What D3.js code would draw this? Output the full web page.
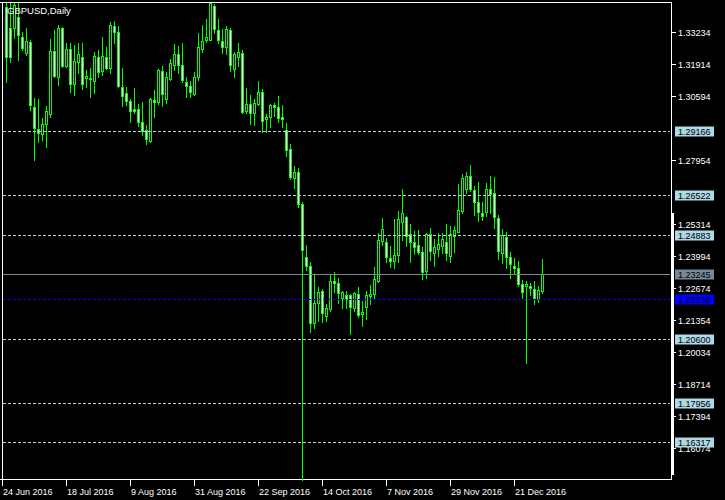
<!DOCTYPE html>
<html><head><meta charset="utf-8">
<script src="https://cdn.jsdelivr.net/npm/d3@7"></script>
<style>html,body{margin:0;padding:0;background:#000;overflow:hidden}svg{display:block}</style>
</head><body><svg id="c" width="725" height="500"></svg>
<script>
const symbolTitle = "GBPUSD,Daily";
const open = [1.4877,1.3427,1.3340,1.3340,1.3385,1.3303,1.3239,1.3282,1.3016,1.2923,1.2904,1.2945,1.2985,1.3246,1.3140,1.3340,1.3186,1.3253,1.3109,1.3200,
1.3220,1.3136,1.3135,1.3123,1.3220,1.3165,1.3220,1.3175,1.3349,1.3323,1.3096,1.3072,1.3040,1.3007,1.3006,1.2952,1.2920,1.2875,1.3044,1.3037,
1.3165,1.3047,1.3131,1.3188,1.3234,1.3188,1.3117,1.3102,1.3069,1.3138,1.3254,1.3292,1.3292,1.3432,1.3333,1.3289,1.3261,1.3333,1.3171,1.3223,
1.3237,1.3000,1.3026,1.2989,1.3026,1.3076,1.2964,1.2973,1.3023,1.3016,1.2973,1.2920,1.2841,1.2724,1.2746,1.2614,1.2395,1.2361,1.2123,1.2205,
1.2256,1.2154,1.2181,1.2297,1.2288,1.2229,1.2240,1.2240,1.2185,1.2244,1.2160,1.2189,1.2237,1.2243,1.2299,1.2464,1.2457,1.2392,1.2381,1.2405,
1.2542,1.2560,1.2490,1.2457,1.2446,1.2416,1.2340,1.2490,1.2414,1.2428,1.2443,1.2457,1.2402,1.2484,1.2501,1.2587,1.2677,1.2731,1.2673,1.2622,
1.2577,1.2581,1.2676,1.2659,1.2556,1.2412,1.2478,1.2398,1.2361,1.2350,1.2284,1.2278,1.2277,1.2263,1.2223,1.2257];
const high = [1.5018,1.3470,1.3445,1.3470,1.3470,1.3326,1.3340,1.3292,1.3051,1.3048,1.2969,1.3019,1.3296,1.3333,1.3353,1.3346,1.3278,1.3278,1.3271,1.3278,
1.3278,1.3168,1.3175,1.3243,1.3250,1.3303,1.3264,1.3367,1.3371,1.3349,1.3175,1.3096,1.3047,1.3092,1.3028,1.3037,1.2941,1.3054,1.3085,1.3172,
1.3184,1.3161,1.3212,1.3275,1.3267,1.3278,1.3138,1.3122,1.3161,1.3322,1.3353,1.3378,1.3447,1.3440,1.3378,1.3337,1.3349,1.3340,1.3243,1.3280,
1.3250,1.3095,1.3065,1.3048,1.3122,1.3089,1.2986,1.3028,1.3033,1.3061,1.3023,1.2948,1.2863,1.2772,1.2762,1.2625,1.2446,1.2377,1.2326,1.2274,
1.2264,1.2203,1.2325,1.2336,1.2309,1.2257,1.2257,1.2244,1.2253,1.2274,1.2215,1.2256,1.2281,1.2354,1.2494,1.2556,1.2474,1.2442,1.2552,1.2587,
1.2677,1.2567,1.2533,1.2504,1.2508,1.2437,1.2494,1.2515,1.2471,1.2494,1.2497,1.2533,1.2526,1.2524,1.2698,1.2739,1.2748,1.2776,1.2689,1.2705,
1.2622,1.2703,1.2731,1.2725,1.2571,1.2511,1.2501,1.2418,1.2391,1.2380,1.2302,1.2298,1.2288,1.2298,1.2277,1.2388];
const low = [1.3229,1.3120,1.3202,1.3299,1.3209,1.3250,1.3230,1.3003,1.2797,1.2872,1.2879,1.2849,1.2975,1.3138,1.3106,1.3181,1.3181,1.3078,1.3065,1.3154,
1.3088,1.3099,1.3055,1.3072,1.3140,1.3147,1.3172,1.3157,1.3280,1.3098,1.3021,1.3023,1.2955,1.2989,1.2937,1.2900,1.2863,1.2871,1.2975,1.3028,
1.3019,1.3033,1.3127,1.3168,1.3157,1.3117,1.3058,1.3055,1.3065,1.3127,1.3243,1.3285,1.3290,1.3319,1.3280,1.3239,1.3234,1.3165,1.3138,1.3184,
1.2992,1.2989,1.2945,1.2941,1.3023,1.2913,1.2913,1.2934,1.2979,1.2955,1.2934,1.2814,1.2718,1.2682,1.2601,1.1450,1.2343,1.2088,1.2102,1.2134,
1.2130,1.2134,1.2175,1.2253,1.2208,1.2185,1.2185,1.2079,1.2175,1.2150,1.2113,1.2141,1.2203,1.2226,1.2295,1.2446,1.2377,1.2356,1.2352,1.2377,
1.2467,1.2443,1.2377,1.2410,1.2408,1.2305,1.2309,1.2384,1.2361,1.2401,1.2412,1.2384,1.2377,1.2418,1.2499,1.2577,1.2659,1.2670,1.2570,1.2546,
1.2549,1.2567,1.2577,1.2515,1.2388,1.2370,1.2350,1.2311,1.2326,1.2277,1.2229,1.1960,1.2240,1.2201,1.2210,1.2247];
const close = [1.3679,1.3223,1.3223,1.3436,1.3312,1.3260,1.3287,1.3023,1.2930,1.2907,1.2945,1.2999,1.3246,1.3143,1.3340,1.3186,1.3253,1.3109,1.3205,1.3234,
1.3109,1.3143,1.3130,1.3226,1.3161,1.3226,1.3175,1.3353,1.3323,1.3103,1.3062,1.3041,1.3000,1.3000,1.2955,1.2917,1.2882,1.3048,1.3037,1.3168,
1.3069,1.3138,1.3195,1.3234,1.3188,1.3127,1.3103,1.3078,1.3138,1.3264,1.3289,1.3303,1.3443,1.3337,1.3292,1.3264,1.3337,1.3188,1.3234,1.3241,
1.2996,1.3026,1.2989,1.3030,1.3076,1.2959,1.2975,1.3023,1.3014,1.2969,1.2964,1.2838,1.2728,1.2746,1.2614,1.2425,1.2361,1.2125,1.2205,1.2251,
1.2167,1.2185,1.2297,1.2288,1.2249,1.2251,1.2222,1.2189,1.2247,1.2157,1.2168,1.2240,1.2244,1.2305,1.2467,1.2511,1.2398,1.2381,1.2405,1.2552,
1.2577,1.2484,1.2457,1.2439,1.2416,1.2333,1.2490,1.2422,1.2437,1.2449,1.2471,1.2414,1.2490,1.2508,1.2590,1.2721,1.2731,1.2676,1.2625,1.2581,
1.2567,1.2676,1.2655,1.2563,1.2420,1.2487,1.2395,1.2366,1.2350,1.2284,1.2251,1.2285,1.2270,1.2226,1.2260,1.23245];
const priceTicks = [1.33234,1.31914,1.30594,1.27954,1.25314,1.23994,1.22674,1.21354,1.20034,1.18714,1.17394,1.16074];
const levelLines = [1.29166,1.26522,1.24883,1.20600,1.17956,1.16317];
const userLine = 1.22239;
const bidPrice = 1.23245;
const dateTickIndex = [0,16,32,48,64,80,96,112,128];
const dateTickLabels = ["24 Jun 2016","18 Jul 2016","9 Aug 2016","31 Aug 2016","22 Sep 2016","14 Oct 2016","7 Nov 2016","29 Nov 2016","21 Dec 2016"];

const dates = d3.utcDays(new Date(Date.UTC(2016,5,24)), new Date(Date.UTC(2016,11,31))).filter(d => d.getUTCDay() % 6 !== 0);
const bars = dates.map((d,i) => ({date:d, i, o:open[i], h:high[i], l:low[i], c:close[i]}));

const svg = d3.select("#c");
const W = 725, H = 500;
const frame = {left:2, top:2, right:671, bottom:479};
const FONT = "'Liberation Sans', Arial, sans-serif";
const GREEN = "#00ff00";

svg.append("rect").attr("width", W).attr("height", H).attr("fill", "#000");

const x = d3.scaleBand().domain(d3.range(bars.length)).range([0, bars.length * 4]).paddingInner(0);
const col = i => Math.round(x(i) + x.bandwidth()/2); // pixel column of the bar centre
const y = d3.scaleLinear().domain([1.16074, 1.33234]).range([448.3, 32.3]);
const py = v => Math.round(y(v));

svg.append("defs").append("clipPath").attr("id","plot")
  .append("rect").attr("x", 0).attr("y", frame.top + 1).attr("width", frame.right).attr("height", frame.bottom - frame.top + 1);

// bottom axis line first (flash crash wick overlaps it)
svg.append("rect").attr("x", 0).attr("y", frame.bottom).attr("width", frame.right + 1).attr("height", 1).attr("fill", "#fff");

const g = svg.append("g").attr("clip-path", "url(#plot)");

const cg = g.selectAll("g.bar").data(bars).join("g").attr("class","bar");
cg.append("rect")
  .attr("x", d => col(d.i)).attr("y", d => py(d.h)).attr("width", 1)
  .attr("height", d => py(d.l) - py(d.h) + 1).attr("fill", GREEN);
cg.append("rect")
  .attr("x", d => col(d.i) - 1).attr("y", d => py(Math.max(d.o, d.c))).attr("width", 3)
  .attr("height", d => py(Math.min(d.o, d.c)) - py(Math.max(d.o, d.c)) + 1).attr("fill", GREEN);
cg.filter(d => py(Math.min(d.o, d.c)) - py(Math.max(d.o, d.c)) > 1).append("rect")
  .attr("x", d => col(d.i)).attr("y", d => py(Math.max(d.o, d.c)) + 1).attr("width", 1)
  .attr("height", d => py(Math.min(d.o, d.c)) - py(Math.max(d.o, d.c)) - 1)
  .attr("fill", d => d.c < d.o ? "#fff" : "#000");

// horizontal level lines
const lineX1 = 3, lineX2 = frame.right - 1;
g.selectAll("line.lvl").data(levelLines).join("line").attr("class","lvl")
  .attr("x1", lineX1).attr("x2", lineX2)
  .attr("y1", d => py(d) + 0.5).attr("y2", d => py(d) + 0.5)
  .attr("stroke", "#add8e6").attr("stroke-width", 1).attr("stroke-dasharray", "3,2");
g.append("line").attr("x1", lineX1).attr("x2", lineX2)
  .attr("y1", py(bidPrice) + 0.5).attr("y2", py(bidPrice) + 0.5)
  .attr("stroke", "#778899").attr("stroke-width", 1);
g.append("line").attr("x1", lineX1).attr("x2", lineX2)
  .attr("y1", py(userLine) + 0.5).attr("y2", py(userLine) + 0.5)
  .attr("stroke", "#0000ff").attr("stroke-width", 1).attr("stroke-dasharray", "3,2");

// frame
svg.append("rect").attr("x", 0).attr("y", frame.top).attr("width", frame.right + 1).attr("height", 1).attr("fill", "#fff");
svg.append("rect").attr("x", frame.left).attr("y", frame.top).attr("width", 1).attr("height", frame.bottom - frame.top).attr("fill", "#fff");
svg.append("rect").attr("x", frame.right).attr("y", frame.top).attr("width", 1).attr("height", frame.bottom - frame.top + 1).attr("fill", "#fff");
svg.append("rect").attr("x", frame.right).attr("y", 213).attr("width", 3).attr("height", 262).attr("fill", "#fff");

// price axis ticks and labels
const ax = svg.append("g");
priceTicks.forEach(p => {
  ax.append("rect").attr("x", frame.right + 1).attr("y", py(p)).attr("width", 4).attr("height", 1).attr("fill", "#fff");
  ax.append("text").attr("x", 678).attr("y", py(p) + 3.5).attr("fill", "#fff")
    .attr("font-family", FONT).attr("font-size", 9).text(p.toFixed(5));
});
function priceBox(p, bg, fg) {
  const yy = py(p);
  ax.append("rect").attr("x", 675).attr("y", yy - 4.5).attr("width", 39).attr("height", 10).attr("fill", bg);
  ax.append("text").attr("x", 678).attr("y", yy + 3.5).attr("fill", fg)
    .attr("font-family", FONT).attr("font-size", 9).text(p.toFixed(5));
}
levelLines.forEach(p => priceBox(p, "#add8e6", "#000"));
priceBox(bidPrice, "#778899", "#000");
priceBox(userLine, "#0000ff", "#000");

// date axis
dateTickIndex.forEach((idx, k) => {
  const cx = col(idx);
  svg.append("rect").attr("x", cx).attr("y", frame.bottom + 1).attr("width", 1).attr("height", 6).attr("fill", "#fff");
  svg.append("text").attr("x", cx + 1).attr("y", 495).attr("fill", "#fff")
    .attr("font-family", FONT).attr("font-size", 9).text(dateTickLabels[k]);
});

// title
svg.append("text").attr("x", 7).attr("y", 13.5).attr("fill", "#fff")
  .attr("font-family", FONT).attr("font-size", 9.5).text(symbolTitle);
</script>
</body></html>
